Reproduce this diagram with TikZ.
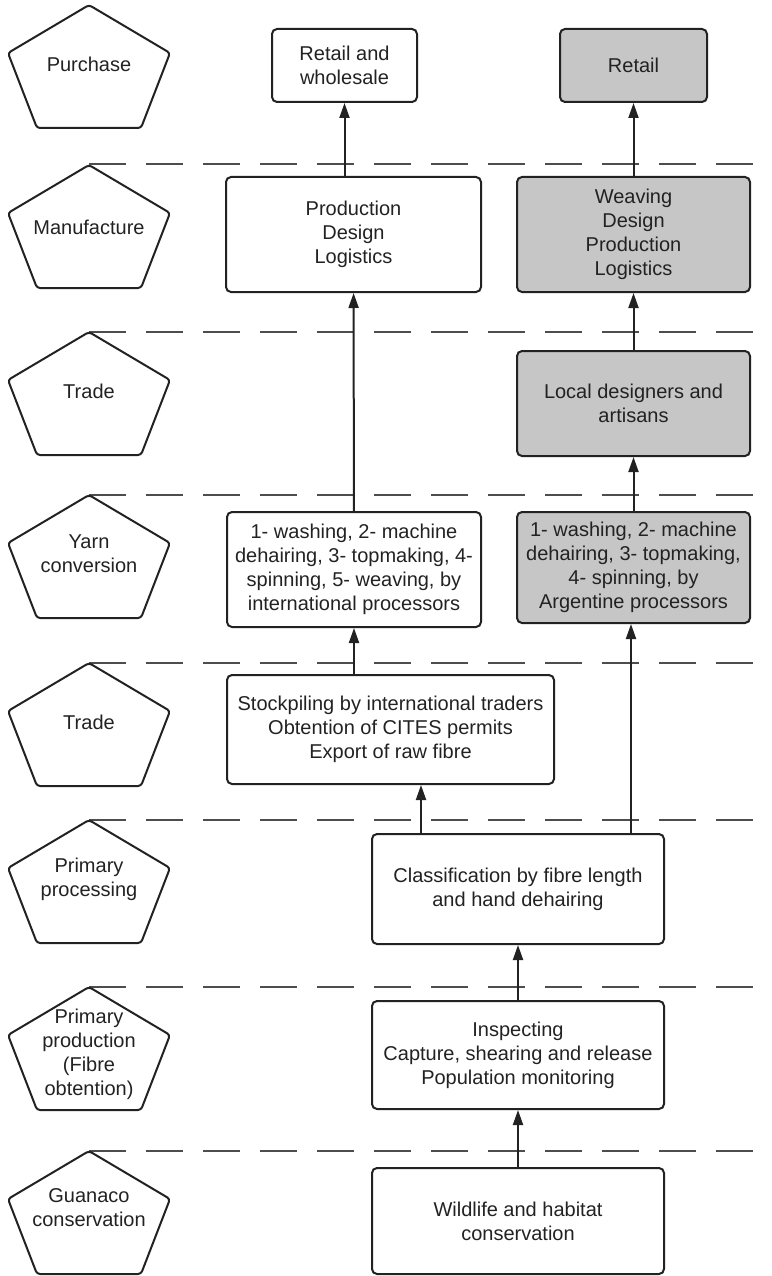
\documentclass[tikz,border=0pt]{standalone}
\usepackage{fontspec}
\setmainfont{Liberation Sans}
\usetikzlibrary{arrows.meta}
\definecolor{ink}{HTML}{222222}
\definecolor{sepgray}{HTML}{4D4D4D}
\definecolor{boxgray}{HTML}{C6C6C6}
\tikzset{
  stageline/.style={draw=ink, line width=2pt, rounded corners=3pt},
  stagetext/.style={align=center, text=ink, inner sep=0pt},
  box/.style={draw=ink, line width=2pt, rounded corners=5pt, align=center, text=ink, inner sep=0pt},
  graybox/.style={box, fill=boxgray},
  sep/.style={draw=sepgray, line width=2pt, dash pattern=on 37pt off 20pt},
  arr/.style={draw=ink, line width=2pt, -{Triangle[length=15pt,width=10pt]}}
}
\newcommand{\stage}[4][59]{\draw[stageline] (89,#3) -- (170,#3+48) -- (141,#3+123) -- (37,#3+123) -- (8,#3+48) -- cycle;
  \node[stagetext] (#2) at (89,#3+#1) {#4};}

\begin{document}
\begin{tikzpicture}[x=1pt, y=-1pt, font=\fontsize{20}{24}\selectfont]
  \useasboundingbox (0,0) rectangle (771,1276);
  % ------------------------------------------------------------------ level separators
  \foreach \y in {164,332,495,663,820,987,1151} {\draw[sep] (89,\y) -- (771,\y);}
  % ------------------------------------------------------------------ stages
  \stage{sPur}{5}{Purchase}
  \stage[62]{sMan}{165}{Manufacture}
  \stage{sTrA}{332}{Trade}
  \stage{sYarn}{495}{Yarn\\conversion}
  \stage{sTrB}{663}{Trade}
  \stage{sProc}{820}{Primary\\processing}
  \stage[67]{sProd}{987}{Primary\\production\\(Fibre\\obtention)}
  \stage[57]{sCons}{1151}{Guanaco\\conservation}
  % ------------------------------------------------------------------ international chain
  \node[box, minimum width=145pt, minimum height=73pt] (rw) at (344.5,65.5) {Retail and\\wholesale};
  \node[box, minimum width=255pt, minimum height=115pt] (prod) at (353.5,234.5) {Production\\Design\\Logistics};
  \node[box, minimum width=254pt, minimum height=115pt] (yint) at (354,569.5) {1- washing, 2- machine\\dehairing, 3- topmaking, 4-\\spinning, 5- weaving, by\\international processors};
  \node[box, minimum width=327pt, minimum height=109pt] (stock) at (390.5,729.5) {Stockpiling by international traders\\Obtention of CITES permits\\Export of raw fibre};
  % ------------------------------------------------------------------ local chain
  \node[graybox, minimum width=147pt, minimum height=73pt] (rt) at (633.5,65.5) {Retail};
  \node[graybox, minimum width=233pt, minimum height=115pt] (weav) at (633.5,234.5) {Weaving\\Design\\Production\\Logistics};
  \node[graybox, minimum width=233pt, minimum height=105pt] (local) at (633.5,403.5) {Local designers and\\artisans};
  \node[graybox, minimum width=233pt, minimum height=111pt] (yarg) at (633.5,567.5) {1- washing, 2- machine\\dehairing, 3- topmaking,\\4- spinning, by\\Argentine processors};
  % ------------------------------------------------------------------ common base
  \node[box, minimum width=292pt, minimum height=110pt] (class) at (518,889) {Classification by fibre length\\and hand dehairing};
  \node[box, minimum width=292pt, minimum height=108pt] (insp) at (518,1055) {Inspecting\\Capture, shearing and release\\Population monitoring};
  \node[box, minimum width=292pt, minimum height=106pt] (wild) at (518,1221) {Wildlife and habitat\\conservation};
  % ------------------------------------------------------------------ flows
  \draw[arr] (wild) -- (insp);
  \draw[arr] (insp) -- (class);
  \draw[arr] ([xshift=-97pt]class.north) -- ([xshift=-97pt]class.north |- stock.south);
  \draw[arr] ([xshift=113pt]class.north) -- ([xshift=113pt]class.north |- yarg.south);
  \draw[arr] (stock.north -| yint.south) -- (yint.south);
  \draw[arr] (yint) -- (prod);
  \draw[arr] (rw.south |- prod.north) -- (rw.south);
  \draw[arr] (yarg) -- (local);
  \draw[arr] (local) -- (weav);
  \draw[arr] (weav) -- (rt);
\end{tikzpicture}
\end{document}
